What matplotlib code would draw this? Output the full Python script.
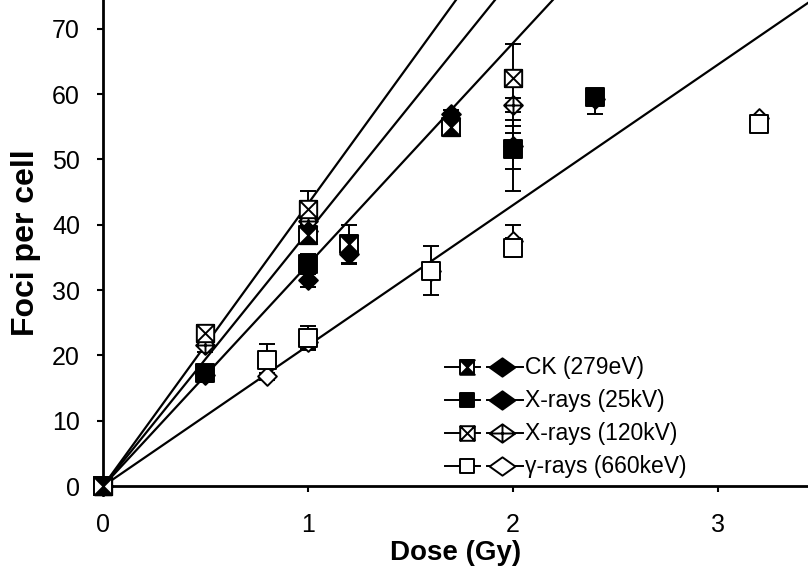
import numpy as np
import matplotlib
matplotlib.use('Agg')
import matplotlib.pyplot as plt
from matplotlib.path import Path

plt.rcParams['font.family'] = ['Liberation Sans', 'DejaVu Sans']

# data (dose in Gy, foci per cell)
# errors are given as (lower, upper) lists
ck_x = [0, 1.0, 1.2, 1.7]
ck_sq = [0, 38.5, 37.0, 55.0]
ck_sq_err = [[0, 1.5, 2.9, 0.5], [0, 1.5, 2.9, 0.5]]
ck_dia = [0, 39.0, 35.5, 57.0]
ck_dia_err = [[0, 1.0, 1.5, 0.5], [0, 1.0, 1.5, 0.5]]

x25_x = [0, 0.5, 1.0, 2.0, 2.4]
x25_sq = [0, 17.3, 34.0, 51.6, 59.5]
x25_sq_err = [[0, 1.0, 1.5, 6.4, 2.6], [0, 1.0, 1.5, 4.5, 0.5]]
x25_dia = [0, 17.0, 31.5, 52.0, 59.3]
x25_dia_err = [[0, 1.0, 1.0, 3.5, 1.0], [0, 1.0, 1.0, 3.1, 1.0]]

x120_x = [0, 0.5, 1.0, 2.0]
x120_sq = [0, 23.4, 42.4, 62.4]
x120_sq_err = [[0, 1.2, 2.8, 5.2], [0, 1.2, 2.8, 5.2]]
x120_dia = [0, 21.6, 40.6, 58.4]
x120_dia_err = [[0, 1.0, 1.5, 4.4], [0, 1.0, 1.5, 1.0]]

g_x = [0, 0.8, 1.0, 1.6, 2.0, 3.2]
g_sq = [0, 19.3, 22.7, 33.0, 36.5, 55.4]
g_sq_err = [[0, 2.5, 1.8, 3.7, 1.5, 0.5], [0, 2.5, 1.8, 3.7, 1.5, 0.5]]
g_dia = [0, 16.8, 22.0, 33.0, 37.5, 56.3]
g_dia_err = [[0, 0.5, 1.0, 1.0, 2.5, 0.5], [0, 0.5, 1.0, 1.0, 2.5, 0.5]]

# slopes of the linear fits through the origin
fit_slopes = [43.2, 38.9, 33.9, 21.5]

labels = ['CK (279eV)', 'X-rays (25kV)', 'X-rays (120kV)', '\u03b3-rays (660keV)']

# marker shapes
CL = [Path.MOVETO, Path.LINETO, Path.LINETO, Path.LINETO, Path.CLOSEPOLY]
SQ = Path([(-1, -1), (1, -1), (1, 1), (-1, 1), (-1, -1)], CL)
DIA = Path([(0, 1), (1, 0), (0, -1), (-1, 0), (0, 1)], CL)
WDIA = Path([(0, 1), (1.4, 0), (0, -1), (-1.4, 0), (0, 1)], CL)   # wide one for the legend
HOUR = Path([(-1, 1), (1, 1), (-1, -1), (1, -1), (-1, 1)], CL)
SQX = Path.make_compound_path(SQ, Path([(-1, -1), (1, 1)]), Path([(-1, 1), (1, -1)]))
DIAX = Path.make_compound_path(DIA, Path([(-1, 0), (1, 0)]), Path([(0, -1), (0, 1)]))
WDIAX = Path.make_compound_path(WDIA, Path([(-1.4, 0), (1.4, 0)]), Path([(0, -1), (0, 1)]))

# layers (marker, facecolor) for square and diamond symbols of each series
sq_styles = [[(SQ, 'white'), (HOUR, 'black')],
             [(SQ, 'black')],
             [(SQX, 'white')],
             [(SQ, 'white')]]
dia_styles = [[(DIA, 'black')],
              [(DIA, 'black')],
              [(DIAX, 'white')],
              [(DIA, 'white')]]
leg_dia_styles = [[(WDIA, 'black')],
                  [(WDIA, 'black')],
                  [(WDIAX, 'white')],
                  [(WDIA, 'white')]]

series = [
    (ck_x, ck_sq, ck_sq_err, ck_dia, ck_dia_err),
    (x25_x, x25_sq, x25_sq_err, x25_dia, x25_dia_err),
    (x120_x, x120_sq, x120_sq_err, x120_dia, x120_dia_err),
    (g_x, g_sq, g_sq_err, g_dia, g_dia_err),
]

SQ_MS = 12.5
DIA_MS = 13.5

fig = plt.figure(figsize=(8.08, 5.76), dpi=100)
ax = fig.add_axes([0.1275, 0.156, 0.8725, 0.844])

xmax = 3.44
xx = np.array([0, xmax])
for s in fit_slopes:
    ax.plot(xx, s * xx, color='black', lw=1.6, zorder=2)

def draw_sym(x, y, styles, ms, **kw):
    for m, fc in styles:
        ax.plot(x, y, linestyle='none', marker=m, markersize=ms, markerfacecolor=fc,
                markeredgecolor='black', markeredgewidth=1.4, **kw)

# draw in reverse so CK ends on top
for i in [3, 2, 1, 0]:
    x, ysq, esq, ydia, edia = series[i]
    ax.errorbar(x, ysq, yerr=esq, fmt='none', ecolor='black', elinewidth=1.4,
                capsize=5.5, capthick=1.4, zorder=3)
    ax.errorbar(x, ydia, yerr=edia, fmt='none', ecolor='black', elinewidth=1.4,
                capsize=5.5, capthick=1.4, zorder=3)
    draw_sym(x, ydia, dia_styles[i], DIA_MS, zorder=4, clip_on=False)
    draw_sym(x, ysq, sq_styles[i], SQ_MS, zorder=4, clip_on=False)

ax.set_xlim(0, xmax)
ax.set_ylim(0, 74.4)
ax.set_xticks([0, 1, 2, 3])
ax.set_yticks(range(0, 80, 10))
ax.tick_params(direction='out', length=4.5, width=1.5, labelsize=18)
ax.tick_params(axis='y', pad=12)
ax.tick_params(axis='x', pad=15)
for sp in ['top', 'right']:
    ax.spines[sp].set_visible(False)
for sp in ['left', 'bottom']:
    ax.spines[sp].set_linewidth(2)

ax.set_xlabel('Dose (Gy)', fontsize=20, fontweight='bold', labelpad=2)
ax.set_ylabel('Foci per cell', fontsize=23, fontweight='bold', labelpad=8)

# hand-made legend in axes coordinates
rows_y = [0.245, 0.177, 0.109, 0.041]
for i, yy in enumerate(rows_y):
    ax.plot([0.485, 0.535], [yy, yy], color='black', lw=1.4, transform=ax.transAxes)
    ax.plot([0.545, 0.596], [yy, yy], color='black', lw=1.4, transform=ax.transAxes)
    for m, fc in sq_styles[i]:
        ax.plot([0.516], [yy], marker=m, markersize=10.5, markerfacecolor=fc,
                markeredgecolor='black', markeredgewidth=1.4, transform=ax.transAxes)
    for m, fc in leg_dia_styles[i]:
        ax.plot([0.566], [yy], marker=m, markersize=18.5, markerfacecolor=fc,
                markeredgecolor='black', markeredgewidth=1.4, transform=ax.transAxes)
    ax.text(0.599, yy, labels[i], fontsize=16.5, va='center', ha='left',
            transform=ax.transAxes)

fig.savefig('out.png', dpi=100)
